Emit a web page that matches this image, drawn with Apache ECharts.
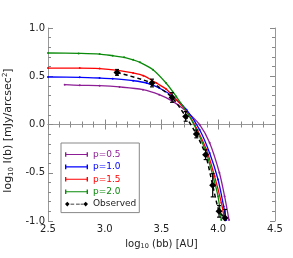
<!DOCTYPE html>
<html><head><meta charset="utf-8">
<script src="https://cdn.jsdelivr.net/npm/echarts@6/dist/echarts.min.js"></script>
<style>html,body{margin:0;padding:0;background:#fff}#c{width:293px;height:258px}</style>
</head><body><div id="c"></div>
<script>
var p05x = [2.647, 2.78, 2.955, 3.13, 3.337, 3.48, 3.6, 3.72, 3.836, 3.924, 4.01, 4.056, 4.095];
var p05y = [0.413, 0.406, 0.402, 0.389, 0.361, 0.309, 0.24, 0.136, -0.002, -0.19, -0.5, -0.744, -0.99];
var p10x = [2.5, 2.78, 2.955, 3.07, 3.25, 3.37, 3.48, 3.6, 3.72, 3.836, 3.924, 3.998, 4.048, 4.07];
var p10y = [0.492, 0.489, 0.482, 0.475, 0.454, 0.43, 0.378, 0.29, 0.154, -0.054, -0.295, -0.57, -0.85, -0.99];
var p15x = [2.5, 2.78, 2.955, 3.117, 3.25, 3.34, 3.455, 3.54, 3.63, 3.72, 3.807, 3.895, 3.968, 4.027, 4.056];
var p15y = [0.585, 0.585, 0.58, 0.561, 0.534, 0.506, 0.43, 0.368, 0.257, 0.136, -0.036, -0.26, -0.537, -0.81, -0.99];
var p20x = [2.5, 2.77, 2.955, 3.07, 3.17, 3.25, 3.31, 3.425, 3.54, 3.63, 3.72, 3.807, 3.895, 3.954, 3.998, 4.027];
var p20y = [0.741, 0.737, 0.73, 0.713, 0.696, 0.67, 0.644, 0.568, 0.43, 0.29, 0.136, -0.05, -0.295, -0.537, -0.744, -0.99];
var obsX = [3.108, 3.416, 3.593, 3.713, 3.807, 3.889, 3.951, 4.007, 4.06];
var obsY = [0.54, 0.43, 0.28, 0.084, -0.098, -0.313, -0.63, -0.9, -0.97];
var obsErr = [0.03, 0.04, 0.05, 0.05, 0.04, 0.05, 0.12, 0.06, 0.09];
var xTicks = ['2.5', '3.0', '3.5', '4.0', '4.5'];
var yTicks = ['-1.0', '-0.5', '0.0', '0.5', '1.0'];

function zip(a, b) { return a.map(function (v, i) { return [v, b[i]]; }); }
var colors = { p05: '#8e1e96', p10: '#0000ff', p15: '#ff0000', p20: '#0a8a0a' };
var F = 'DejaVu Sans';
var modelIcon = 'path://M0,0L1.5,0L1.5,1.9L23.5,1.9L23.5,0L25,0L25,5L23.5,5L23.5,3.1L1.5,3.1L1.5,5L0,5Z';
var obsIcon = 'path://M0,2.5L2.5,0L5,2.5L2.5,5Z M6,2L10,2L10,3L6,3Z M12,2L16,2L16,3L12,3Z M17,2L20,2L20,3L17,3Z M20,2.5L22.5,0L25,2.5L22.5,5Z';

function modelSeries(name, xs, ys, c) {
  return { name: name, type: 'line', data: zip(xs, ys), smooth: 0.3, showSymbol: true,
    symbol: 'circle', symbolSize: 2, itemStyle: { color: c }, lineStyle: { color: c, width: 1.3 },
    clip: true, z: 3, emphasis: { disabled: true } };
}

var chart = echarts.init(document.getElementById('c'), null, { renderer: 'canvas' });
var axisCommon = {
  type: 'value', splitLine: { show: false },
  axisLine: { show: true, lineStyle: { color: '#999', width: 1 } },
  axisTick: { show: true, inside: true, length: 5, lineStyle: { color: '#888' } },
  minorTick: { show: true, splitNumber: 5, length: 3, lineStyle: { color: '#888' } }
};
chart.setOption({
  animation: false,
  grid: { left: 48, right: 18, top: 28, bottom: 37, outerBoundsMode: 'none', containLabel: false },
  legend: {
    orient: 'vertical', left: 61, top: 143,
    backgroundColor: '#fff', borderColor: '#888', borderWidth: 1,
    padding: [7, 3, 4, 4], itemGap: 3.4, itemWidth: 23, itemHeight: 5,
    textStyle: { fontFamily: F, fontSize: 9 },
    data: [
      { name: 'p=0.5', icon: modelIcon, textStyle: { color: colors.p05 } },
      { name: 'p=1.0', icon: modelIcon, textStyle: { color: colors.p10 } },
      { name: 'p=1.5', icon: modelIcon, textStyle: { color: colors.p15 } },
      { name: 'p=2.0', icon: modelIcon, textStyle: { color: colors.p20 } },
      { name: 'Observed', icon: obsIcon, textStyle: { color: '#222' } }
    ]
  },
  xAxis: [
    Object.assign({}, axisCommon, {
      min: 2.5, max: 4.5, interval: 0.5, position: 'bottom',
      axisLabel: { fontFamily: F, fontSize: 10, color: '#222', margin: 3,
        formatter: function (v) { var s = v.toFixed(1); return xTicks.indexOf(s) >= 0 ? s : ''; } },
      name: 'log{sub|10} (bb) [AU]', nameLocation: 'middle', nameGap: 17,
      nameTextStyle: { fontFamily: F, fontSize: 10, color: '#222',
        rich: { sub: { fontSize: 6.5, verticalAlign: 'bottom', padding: [5, 0, 0, 0], fontFamily: F, color: '#222' } } }
    }),
    Object.assign({}, axisCommon, { min: 2.5, max: 4.5, interval: 0.5, position: 'top', axisLabel: { show: false } })
  ],
  yAxis: [
    Object.assign({}, axisCommon, {
      min: -1, max: 1, interval: 0.5, position: 'left',
      axisLabel: { fontFamily: F, fontSize: 10, color: '#222', margin: 3,
        formatter: function (v) { var s = v.toFixed(1); return yTicks.indexOf(s) >= 0 ? s : ''; } },
      name: 'log{sub|10} I(b) [mJy/arcsec{sup|2}]', nameLocation: 'middle', nameGap: 31, nameRotate: 90,
      nameTextStyle: { fontFamily: F, fontSize: 11, color: '#222', padding: [0, 12, 0, 0],
        rich: { sub: { fontSize: 7, verticalAlign: 'bottom', padding: [6, 0, 0, 0], fontFamily: F, color: '#222' },
                sup: { fontSize: 7, verticalAlign: 'top', padding: [0, 0, 6, 0], fontFamily: F, color: '#222' } } }
    }),
    Object.assign({}, axisCommon, { min: -1, max: 1, interval: 0.5, position: 'right', axisLabel: { show: false } })
  ],
  series: [
    modelSeries('p=0.5', p05x, p05y, colors.p05),
    modelSeries('p=1.0', p10x, p10y, colors.p10),
    modelSeries('p=1.5', p15x, p15y, colors.p15),
    modelSeries('p=2.0', p20x, p20y, colors.p20),
    { name: 'Observed', type: 'line', data: zip(obsX, obsY), smooth: 0.2, symbol: 'diamond', symbolSize: 7,
      itemStyle: { color: '#000' }, lineStyle: { color: '#000', width: 1.5, type: [4, 3] }, z: 5, clip: true },
    { name: 'err', type: 'custom', z: 4, clip: true,
      data: obsX.map(function (x, i) { return [x, obsY[i] - obsErr[i], obsY[i] + obsErr[i]]; }),
      renderItem: function (params, api) {
        var lo = api.coord([api.value(0), api.value(1)]);
        var hi = api.coord([api.value(0), api.value(2)]);
        var st = { stroke: '#000', lineWidth: 1.2 };
        return { type: 'group', children: [
          { type: 'line', shape: { x1: lo[0], y1: lo[1], x2: hi[0], y2: hi[1] }, style: st },
          { type: 'line', shape: { x1: lo[0] - 2, y1: lo[1], x2: lo[0] + 2, y2: lo[1] }, style: st },
          { type: 'line', shape: { x1: hi[0] - 2, y1: hi[1], x2: hi[0] + 2, y2: hi[1] }, style: st }
        ] };
      }
    }
  ]
});
</script></body></html>
